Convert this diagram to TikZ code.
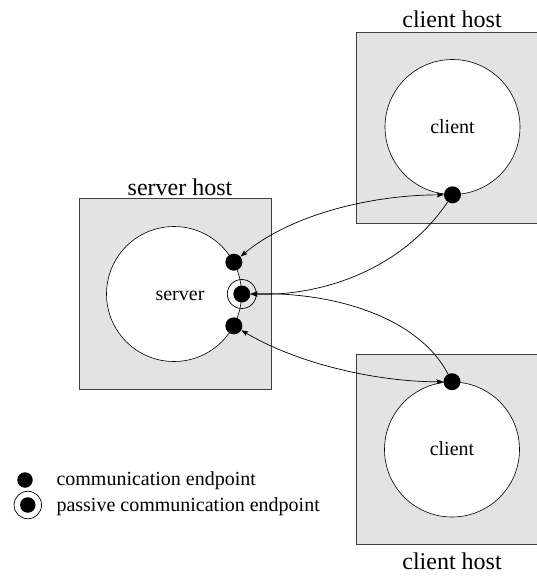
\documentclass[tikz,border=0pt]{standalone}
\usepackage{fontspec}
\setmainfont{Liberation Serif}
\usetikzlibrary{arrows.meta}

\tikzset{
  host/.style={rectangle, draw=black!75, fill=black!11, line width=0.8pt,
    minimum width=192pt, minimum height=191pt, inner sep=0pt},
  proc/.style={circle, draw=black, fill=white, minimum size=135pt, inner sep=0pt,
    line width=0.6pt},
  endpt/.style={circle, fill=black, minimum size=17pt, inner sep=0pt},
  ring/.style={circle, draw=black, minimum size=29pt, inner sep=0pt, line width=0.7pt},
  hostlabel/.style={font=\fontsize{24}{28}\selectfont, anchor=base},
  proclabel/.style={font=\fontsize{20}{24}\selectfont, anchor=base},
  legendtext/.style={font=\fontsize{20}{24}\selectfont, anchor=base west},
  tip/.tip={Stealth[length=7pt, width=5pt, inset=1.5pt]},
  link/.style={line width=0.7pt, -tip},
  dlink/.style={line width=0.7pt, tip-tip},
}

\begin{document}
\begin{tikzpicture}[x=1pt, y=-1pt]
  \clip (0,0) rectangle (537,576);

  % hosts
  \node[host] (serverhost) at (175,294) {};
  \node[host] (clienthostA) at (452,127.5) {};
  \node[host, minimum height=190pt] (clienthostB) at (452,449) {};

  \node[hostlabel] (serverhostlabel) at (180,195) {server host};
  \node[hostlabel] (clienthostAlabel) at (452,27) {client host};
  \node[hostlabel] (clienthostBlabel) at (452,569) {client host};

  % processes
  \node[proc] (server) at (174,294) {};
  \node[proc] (clientA) at (452.5,127) {};
  \node[proc] (clientB) at (452,449.5) {};

  \node[proclabel] (serverlabel) at (180,300) {server};
  \node[proclabel] (clientAlabel) at (452.5,133) {client};
  \node[proclabel] (clientBlabel) at (452,455) {client};

  % endpoints on the server
  \node[endpt] (st) at (server.28.5) {};
  \node[ring] (spring) at (server.east) {};
  \node[endpt] (sp) at (server.east) {};
  \node[endpt] (sb) at (server.-28.5) {};

  % endpoints on the clients
  \node[endpt] (ct) at (clientA.south) {};
  \node[endpt] (cb) at (clientB.north) {};

  % connections
  \draw[dlink] (st) .. controls (290,215) and (370,195) .. (ct);
  \draw[link] (ct) .. controls (405,265) and (330,296) .. (sp);
  \draw[link] (cb) .. controls (420,320) and (340,292) .. (sp);
  \draw[dlink] (sb) .. controls (300,365) and (380,382) .. (cb);

  % legend
  \node[endpt, minimum size=15.5pt] (legdot) at (25,480) {};
  \node[legendtext] (legdottext) at (53,485) {communication endpoint};
  \node[ring, minimum size=27.5pt] (legring) at (27.8,505) {};
  \node[endpt, minimum size=15.5pt] (legringdot) at (27.8,505) {};
  \node[legendtext] (legringtext) at (53,511.5) {passive communication endpoint};
\end{tikzpicture}
\end{document}
